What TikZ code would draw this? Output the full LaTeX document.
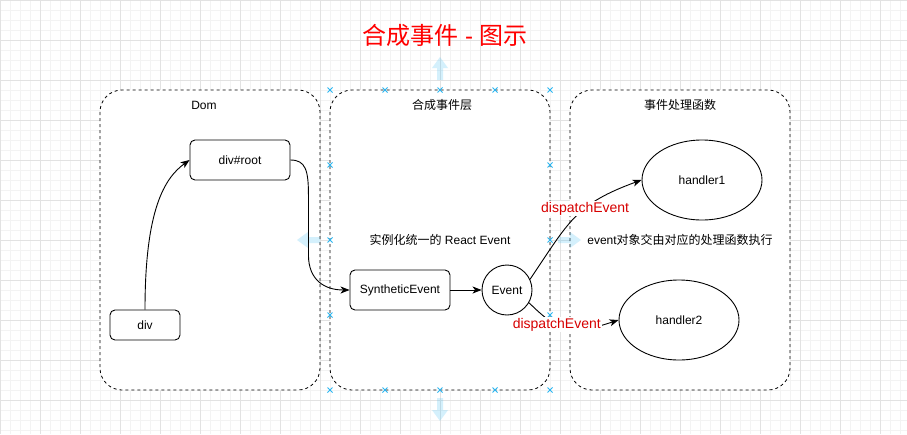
\documentclass[tikz,border=0pt]{standalone}
\usepackage{fontspec}
\setmainfont{Liberation Sans}
\newfontfamily\cjk{Noto Sans CJK SC}
\usetikzlibrary{arrows.meta,positioning,calc,shapes.geometric}
\definecolor{gridmajor}{RGB}{226,226,226}
\definecolor{gridminor}{RGB}{243,243,243}
\definecolor{dispred}{RGB}{215,0,0}
\definecolor{handle}{RGB}{41,182,242}

\begin{document}
\begin{tikzpicture}[x=1pt,y=-1pt,
    layer/.style={draw,fill=white,dash pattern=on 3pt off 3pt,rounded corners=22pt,line width=0.8pt},
    box/.style={draw,fill=white,rounded corners=5pt,line width=0.9pt,minimum width=100pt,minimum height=40pt,font=\fontsize{12}{14}\selectfont},
    blob/.style={draw,fill=white,ellipse,line width=0.9pt,minimum width=120pt,minimum height=80pt,font=\fontsize{12}{14}\selectfont},
    txt/.style={font=\fontsize{12}{14}\selectfont,inner sep=0pt},
    dlabel/.style={fill=white,text=dispred,inner sep=1pt,font=\fontsize{14}{16}\selectfont},
    flow/.style={line width=0.9pt,-{Stealth[length=9pt,width=7pt,inset=2.5pt]}},
    handlearrow/.style={fill=handle,fill opacity=0.2}]
    \useasboundingbox (0,0) rectangle (907,434);
    \fill[white] (0,0) rectangle (907,434);
    \foreach \gx in {0,10,...,900} \draw[gridminor,line width=0.6pt] (\gx,0) -- (\gx,434);
    \foreach \gy in {0,10,...,430} \draw[gridminor,line width=0.6pt] (0,\gy) -- (907,\gy);
    \foreach \gx in {0,40,...,880} \draw[gridmajor,line width=0.8pt] (\gx,0) -- (\gx,434);
    \foreach \gy in {0,40,...,400} \draw[gridmajor,line width=0.8pt] (0,\gy) -- (907,\gy);

    \node[text=red,inner sep=0pt,font=\fontsize{24}{28}\selectfont] (title) at (445,35) {{\cjk 合成事件} - {\cjk 图示}};

    \draw[layer] (100,90) rectangle (320,390);
    \draw[layer] (330,90) rectangle (550,390);
    \draw[layer] (570,90) rectangle (790,390);
    \node[txt] (domtitle) at (204,105) {Dom};
    \node[txt] (syntitle) at (442,105) {\cjk 合成事件层};
    \node[txt] (hdltitle) at (680,105) {\cjk 事件处理函数};

    \fill[handlearrow] (440,57) -- (448,68) -- (443,68) -- (443,80) -- (437,80) -- (437,68) -- (432,68) -- cycle;
    \fill[handlearrow] (440,421) -- (448,410) -- (443,410) -- (443,398) -- (437,398) -- (437,410) -- (432,410) -- cycle;
    \fill[handlearrow] (297,240) -- (308,232) -- (308,237) -- (320,237) -- (320,243) -- (308,243) -- (308,248) -- cycle;
    \fill[handlearrow] (581,240) -- (570,232) -- (570,237) -- (558,237) -- (558,243) -- (570,243) -- (570,248) -- cycle;
    \foreach \hx/\hy in {330/90,385/90,440/90,495/90,550/90,330/390,385/390,440/390,495/390,550/390,330/165,330/240,330/315,550/165,550/240,550/315}
        \draw[handle,line width=0.8pt] (\hx,\hy) ++(-2.5,-2.5) -- ++(5,5) ++(-5,0) -- ++(5,-5);

    \node[box] (root) at (240,160) {div\#root};
    \node[box,minimum width=70pt,minimum height=30pt] (div) at (145,325) {div};
    \node[box] (syn) at (400,290) {SyntheticEvent};
    \node[draw,fill=white,circle,line width=0.9pt,minimum size=50pt,inner sep=0pt,font=\fontsize{12}{14}\selectfont] (ev) at (507,290) {Event};
    \node[blob] (h1) at (702,180) {handler1};
    \node[blob] (h2) at (679,320) {handler2};

    \node[txt] (inst) at (440,240) {{\cjk 实例化统一的} React Event};
    \node[txt] (exec) at (680,240) {event{\cjk 对象交由对应的处理函数执行}};

    \draw[flow] (div.north) .. controls +(0,-100) and +(-25,18) .. (root.west);
    \draw[flow] (root.east) .. controls +(15,0) and +(0,-25) .. ++(18,35) -- ++(0,60) .. controls +(0,25) and +(-25,0) .. (syn.west);
    \draw[flow] (syn) -- (ev);
    \draw[flow] (ev.25) to[out=56,in=200,looseness=1.2] node[dlabel,pos=0.6] {dispatchEvent} (h1.west);
    \draw[flow] (ev.-30) to[out=-45,in=198,looseness=1.3] node[dlabel,pos=0.33] {dispatchEvent} (h2.west);
\end{tikzpicture}
\end{document}
